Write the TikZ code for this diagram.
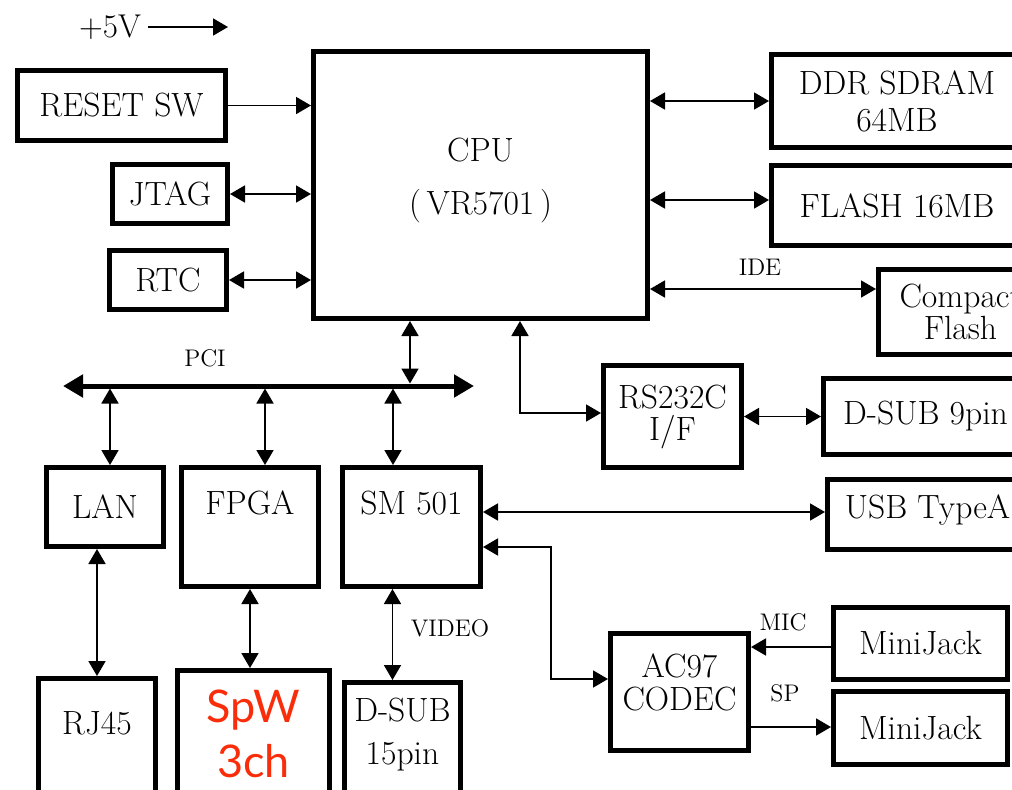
\documentclass[tikz,border=0pt]{standalone}
\usepackage{fontspec}
\usepackage{tikz}
\usetikzlibrary{arrows.meta}
\newfontfamily\spwfont{Lato}
\definecolor{spwred}{RGB}{250,45,10}

\begin{document}
\begin{tikzpicture}[x=0.5pt,y=-0.5pt,>={Triangle[length=7.5pt,width=8.5pt]},
  blk/.style={draw,line width=2.5pt,inner sep=2pt,align=center,font=\fontsize{16.8}{18.5}\selectfont},
  conn/.style={line width=0.9pt},
  tag/.style={font=\fontsize{12}{13}\selectfont,inner sep=1pt}]
\useasboundingbox (0,0) rectangle (1012,789);
\clip (0,0) rectangle (1012,789);
% left column
\node[font=\fontsize{16.5}{18.5}\selectfont] (v5) at (110,27) {+5V};
\coordinate (v5end) at (228,27);
\node[blk,minimum width=104pt,minimum height=35pt] (reset) at (121.5,105.5) {RESET SW};
\node[blk,minimum width=57.5pt,minimum height=29.5pt] (jtag) at (170,194) {JTAG};
\node[blk,minimum width=58.5pt,minimum height=29.5pt] (rtc) at (168,280) {RTC};
% cpu and memories
\node[blk,minimum width=167pt,minimum height=133.5pt,text depth=9pt] (cpu) at (480.5,185) {CPU\\[8pt](\,VR5701\,)};
\node[blk,minimum width=125.5pt,minimum height=46.5pt] (ddr) at (897,101) {DDR SDRAM\\64MB};
\node[blk,minimum width=125.5pt,minimum height=40pt] (flash) at (897,205.5) {FLASH 16MB};
\node[blk,minimum width=82pt,minimum height=42.5pt] (cf) at (960.5,312) {Compact\\[-2.5pt]Flash};
\node[blk,minimum width=69pt,minimum height=51pt] (rs232) at (672.5,416.5) {RS232C\\[-2.5pt]I/F};
\node[blk,minimum width=102pt,minimum height=38pt] (dsub9) at (925.5,416.5) {D-SUB 9pin};
\node[blk,minimum width=100pt,minimum height=35pt,text depth=7.5pt] (usb) at (927.5,514.5) {USB TypeA};
% audio
\node[blk,minimum width=69pt,minimum height=58.5pt,text depth=10pt] (ac97) at (679.5,692) {AC97\\[-2pt]CODEC};
\node[blk,minimum width=87pt,minimum height=36pt] (jack1) at (920.5,643.5) {MiniJack};
\node[blk,minimum width=87pt,minimum height=36.5pt] (jack2) at (920.5,728) {MiniJack};
% pci devices
\node[blk,minimum width=58.5pt,minimum height=39.5pt] (lan) at (105,507) {LAN};
\node[blk,minimum width=68.5pt,minimum height=59.5pt,text depth=24pt] (fpga) at (250,527) {FPGA};
\node[blk,minimum width=69pt,minimum height=59.5pt,text depth=24pt] (sm) at (411.5,527) {SM 501};
\node[blk,minimum width=58.5pt,minimum height=59.5pt,text depth=15pt] (rj45) at (97,738) {RJ45};
\node[blk,minimum width=76pt,minimum height=63.5pt,text=spwred,font=\spwfont\fontsize{22.5}{27.5}\selectfont] (spw) at (253.5,734) {SpW\\3ch};
\node[blk,minimum width=58pt,minimum height=57.5pt,text depth=9pt] (dsub15) at (402.5,740) {D-SUB\\[3pt]15pin};
% small labels
\node[tag] (pci) at (205,358) {PCI};
\node[tag] (ide) at (760,267) {IDE};
\node[tag] (mic) at (783,622) {MIC};
\node[tag] (sp) at (785,693) {SP};
\node[tag] (video) at (450,628) {VIDEO};
% pci bus
\coordinate (pcil) at (63,386);
\coordinate (pcir) at (474,386);
\draw[line width=2.5pt,{Triangle[length=10pt,width=11pt]}-{Triangle[length=10pt,width=11pt]}] (pcil) -- (pcir);
\foreach \n/\x in {cpu/410,lan/110,fpga/265,sm/393}
  \coordinate (tap\n) at (\x,386);
\draw[conn,<->,shorten >=1.25pt] (cpu.south -| tapcpu) -- (tapcpu);
\foreach \b in {lan,fpga,sm}
  \draw[conn,<->,shorten <=1.25pt] (tap\b) -- (tap\b |- \b.north);
% connectors
\draw[conn,->] (v5) -- (v5end);
\draw[conn,->] (reset.east) -- (reset.east -| cpu.west);
\draw[conn,<->] (jtag.east) -- (jtag.east -| cpu.west);
\draw[conn,<->] (rtc.east) -- (rtc.east -| cpu.west);
\draw[conn,<->] (cpu.east |- ddr.west) -- (ddr.west);
\draw[conn,<->] ([yshift=2.75pt]flash.west -| cpu.east) -- ([yshift=2.75pt]flash.west);
\draw[conn,<->] ([yshift=11.5pt]cf.west -| cpu.east) -- ([yshift=11.5pt]cf.west);
\draw[conn,<->] ([xshift=19.75pt]cpu.south) |- ([yshift=1.75pt]rs232.west);
\draw[conn,<->] (rs232.east) -- (dsub9.west);
\draw[conn,<->] ([yshift=1.25pt]sm.east |- usb.west) -- ([yshift=1.25pt]usb.west);
\draw[conn,<->] ([yshift=-10pt]sm.east) -- ++(68,0) |- ([yshift=6.5pt]ac97.west);
\draw[conn,->] (jack1.west |- 0,647) -- (ac97.east |- 0,647);
\draw[conn,->] (ac97.east |- 0,727) -- (jack2.west |- 0,727);
\draw[conn,<->] (rj45.north) -- (rj45.north |- lan.south);
\draw[conn,<->] (fpga.south |- spw.north) -- (fpga.south);
\draw[conn,<->] ([xshift=-5pt]dsub15.north) -- ([xshift=-5pt]dsub15.north |- sm.south);
\end{tikzpicture}
\end{document}
